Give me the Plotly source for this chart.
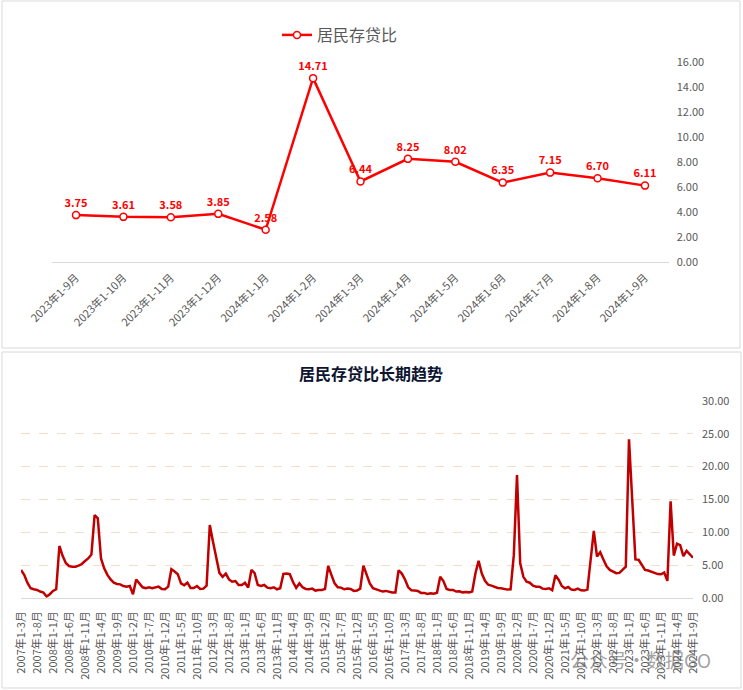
import plotly.graph_objects as go

# ---------------- data ----------------
top_cats = ["2023年1-9月", "2023年1-10月", "2023年1-11月", "2023年1-12月",
            "2024年1-1月", "2024年1-2月", "2024年1-3月", "2024年1-4月",
            "2024年1-5月", "2024年1-6月", "2024年1-7月", "2024年1-8月",
            "2024年1-9月"]
top_vals = [3.75, 3.61, 3.58, 3.85, 2.58, 14.71, 6.44, 8.25, 8.02, 6.35, 7.15, 6.70, 6.11]

long_start_year = 2007
long_start_month = 3
long_vals = [
    4.24, 3.5, 2.3, 1.45, 1.3, 1.2, 0.95, 0.8, 0.2, 0.55,            # 2007-3..12
    1.05, 1.3, 7.9, 6.4, 5.3, 4.85, 4.75, 4.75, 4.9, 5.15, 5.6, 6.0,  # 2008
    6.6, 12.6, 12.1, 6.0, 4.5, 3.5, 2.8, 2.3, 2.1, 2.05, 1.8, 1.7,    # 2009
    1.8, 0.55, 2.8, 2.2, 1.6, 1.45, 1.6, 1.45, 1.55, 1.7, 1.35, 1.3,  # 2010
    1.7, 4.35, 4.0, 3.6, 2.2, 1.9, 2.3, 1.5, 1.5, 1.8, 1.35, 1.4,     # 2011
    1.85, 11.1, 8.55, 6.0, 3.8, 3.2, 3.7, 2.8, 2.45, 2.55, 1.95, 1.95,  # 2012
    2.3, 1.55, 4.25, 3.75, 1.95, 1.8, 1.95, 1.55, 1.45, 1.6, 1.3, 1.45,  # 2013
    3.65, 3.7, 3.6, 2.4, 1.5, 2.2, 1.6, 1.35, 1.3, 1.4, 1.1, 1.2,     # 2014
    1.2, 1.35, 4.85, 3.5, 2.2, 1.6, 1.55, 1.3, 1.4, 1.35, 1.05, 1.1,  # 2015
    1.4, 4.9, 3.5, 2.2, 1.45, 1.25, 1.15, 0.95, 1.05, 0.9, 0.8, 0.8,  # 2016
    4.2, 3.7, 2.8, 1.6, 1.15, 1.1, 1.05, 0.75, 0.75, 0.58, 0.68, 0.63,  # 2017
    0.78, 3.2, 2.55, 1.35, 1.2, 1.2, 0.95, 1.0, 0.83, 0.88, 0.83, 0.95,  # 2018
    3.7, 5.65, 3.7, 2.6, 2.0, 1.85, 1.65, 1.5, 1.45, 1.3, 1.25, 1.3,  # 2019
    6.5, 18.7, 5.25, 3.2, 2.45, 2.3, 1.85, 1.7, 1.7, 1.4, 1.35, 1.45,  # 2020
    1.15, 3.45, 2.75, 1.8, 1.45, 1.65, 1.25, 1.2, 1.4, 1.15, 1.1, 1.25,  # 2021
    6.3, 10.2, 6.3, 6.95, 5.85, 4.8, 4.25, 3.95, 3.75, 3.8, 4.35, 4.75,  # 2022
    24.15, 15.0, 5.85, 5.8, 5.0, 4.25, 4.15, 4.0, 3.75, 3.61, 3.58, 3.85,  # 2023
    2.58, 14.71, 6.44, 8.25, 8.02, 6.35, 7.15, 6.70, 6.11,            # 2024-1..9
]

long_cats = []
y, m = long_start_year, long_start_month
for _ in long_vals:
    long_cats.append(f"{y}年1-{m}月")
    m += 1
    if m > 12:
        m = 1
        y += 1
long_ticks = long_cats[::5]

top_series_name = "居民存贷比"
bottom_title = "居民存贷比长期趋势"
watermark = "公众号·数据GO"

# ---------------- layout helpers ----------------
W, H = 743, 690
FONT = "Noto Sans CJK SC, Noto Sans, sans-serif"
GRAY = "#595959"


def fx(px):
    return px / W


def fy(py):
    return 1 - py / H


fig = go.Figure()

fig.add_trace(go.Scatter(
    x=top_cats, y=top_vals, name=top_series_name,
    mode="lines+markers+text",
    line=dict(color="#FF0000", width=2.5),
    marker=dict(symbol="circle", size=7, color="white",
                line=dict(color="#FF0000", width=1.5)),
    text=[f"{v:.2f}" for v in top_vals],
    texttemplate="<b>%{text}</b>",
    textposition="top center",
    textfont=dict(color="#FF0000", size=11, family=FONT),
    xaxis="x", yaxis="y", showlegend=True,
    cliponaxis=False,
))

fig.add_trace(go.Scatter(
    x=long_cats, y=long_vals, name=bottom_title,
    mode="lines",
    line=dict(color="#C00000", width=2.5),
    xaxis="x2", yaxis="y2", showlegend=False,
))

fig.update_layout(
    width=W, height=H, autosize=False,
    margin=dict(l=0, r=0, t=0, b=0),
    paper_bgcolor="white", plot_bgcolor="white",
    font=dict(family=FONT, color=GRAY, size=11),
    showlegend=True,
    legend=dict(orientation="h", x=fx(340), xanchor="center",
                y=fy(35), yanchor="middle",
                font=dict(size=16, color=GRAY, family=FONT),
                bgcolor="rgba(0,0,0,0)"),
    xaxis=dict(domain=[fx(52.3), fx(668.7)], anchor="y",
               type="category", range=[-0.5, 12.5],
               showline=True, linecolor="#D9D9D9", linewidth=1,
               showgrid=False, zeroline=False, ticks="",
               tickangle=-45, tickfont=dict(size=11, color=GRAY),
               ticklabelstandoff=4, automargin=False, fixedrange=True),
    yaxis=dict(domain=[fy(262), fy(62)], anchor="x", side="right",
               range=[0, 16], dtick=2, tickformat=".2f",
               showgrid=False, zeroline=False, showline=False, ticks="",
               tickfont=dict(size=11, color=GRAY),
               ticklabelstandoff=7, automargin=False),
    xaxis2=dict(domain=[fx(21), fx(693)], anchor="y2",
                type="category", range=[0, len(long_vals) - 1],
                tickmode="array", tickvals=long_ticks, ticktext=long_ticks,
                showline=True, linecolor="#D9D9D9", linewidth=1,
                showgrid=False, zeroline=False, ticks="",
                tickangle=-90, tickfont=dict(size=11, color=GRAY),
                ticklabelstandoff=8, automargin=False),
    yaxis2=dict(domain=[fy(597.8), fy(401)], anchor="x2", side="right",
                range=[0, 30], dtick=5, tickformat=".2f",
                showgrid=True, gridcolor="#F9DCC8", griddash="dash", gridwidth=1,
                zeroline=False, showline=False, ticks="",
                tickfont=dict(size=11, color=GRAY),
                ticklabelstandoff=8, automargin=False),
    shapes=[
        dict(type="rect", xref="paper", yref="paper",
             x0=fx(2), x1=fx(740), y0=fy(348), y1=fy(1),
             line=dict(color="#D9D9D9", width=1)),
        dict(type="rect", xref="paper", yref="paper",
             x0=fx(2), x1=fx(741), y0=fy(688), y1=fy(352),
             line=dict(color="#D9D9D9", width=1)),
    ],
    annotations=[
        dict(text=f"<b>{bottom_title}</b>", xref="paper", yref="paper",
             x=fx(371), y=fy(373), xanchor="center", yanchor="middle",
             showarrow=False, font=dict(size=16, color="#0d1530", family=FONT)),
        dict(text=watermark, xref="paper", yref="paper",
             x=fx(640), y=fy(659), xanchor="center", yanchor="middle",
             showarrow=False, font=dict(size=19, color="rgba(100,100,100,0.6)", family=FONT)),
    ],
)

fig.write_html("out.html",
               config={"displayModeBar": False},
               post_script="document.body.style.margin='0';document.body.style.overflow='hidden';")
